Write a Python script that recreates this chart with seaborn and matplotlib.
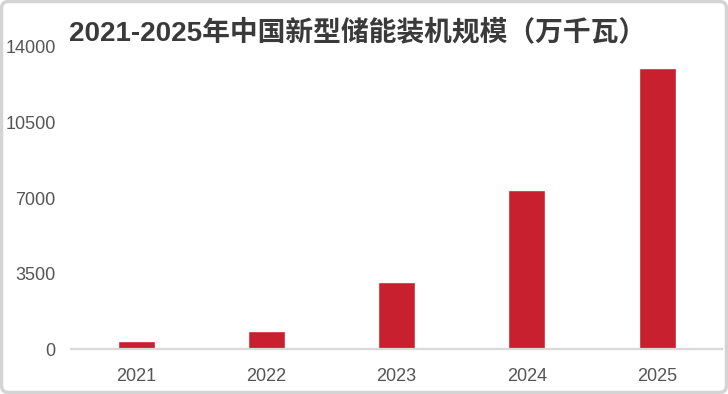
import matplotlib
matplotlib.use("Agg")
import matplotlib.pyplot as plt
import seaborn as sns
import pandas as pd
from matplotlib.patches import FancyBboxPatch

# --- Datos (万千瓦) ---
years = ['2021', '2022', '2023', '2024', '2025']
capacity = [370, 870, 3139, 7376, 13000]
y_ticks = [0, 3500, 7000, 10500, 14000]

title = '2021-2025年中国新型储能装机规模（万千瓦）'
bar_color = '#C8202F'
text_fonts = ['Liberation Sans', 'Noto Sans CJK SC', 'DejaVu Sans']

sns.set_theme(style="white")
plt.rcParams['font.family'] = text_fonts

df = pd.DataFrame({'year': years, 'capacity': capacity})

fig = plt.figure(figsize=(7.28, 3.94), dpi=100)
ax = fig.add_axes([0.0975, 0.113, 0.8945, 0.768])

sns.barplot(data=df, x='year', y='capacity', color=bar_color, saturation=1,
            width=0.284, ax=ax)

ax.set_xlim(-0.5, 4.5)
ax.set_ylim(0, 14000)
ax.set_yticks(y_ticks)
ax.set_yticklabels([str(v) for v in y_ticks])
ax.set_xlabel('')
ax.set_ylabel('')

# Solo queda la línea base gris
for side in ['top', 'right', 'left']:
    ax.spines[side].set_visible(False)
ax.spines['bottom'].set_color('#d9d9d9')
ax.spines['bottom'].set_linewidth(1.6)

ax.tick_params(axis='y', length=0, pad=11, labelsize=13, labelcolor='#555555')
ax.tick_params(axis='x', length=0, pad=13, labelsize=13, labelcolor='#555555')
ax.grid(False)

fig.text(0.095, 0.917, title, fontsize=20, fontweight='bold', color='#3a3a3a',
         ha='left', va='center', family=text_fonts)

# Marco gris redondeado alrededor de la imagen
frame = FancyBboxPatch((1.5, 1.5), 725, 391, boxstyle="round,pad=0,rounding_size=7",
                       transform=None, facecolor='none', edgecolor='#d4d4d4',
                       linewidth=2.5)
fig.patches.append(frame)

fig.savefig('out.png', dpi=100)
